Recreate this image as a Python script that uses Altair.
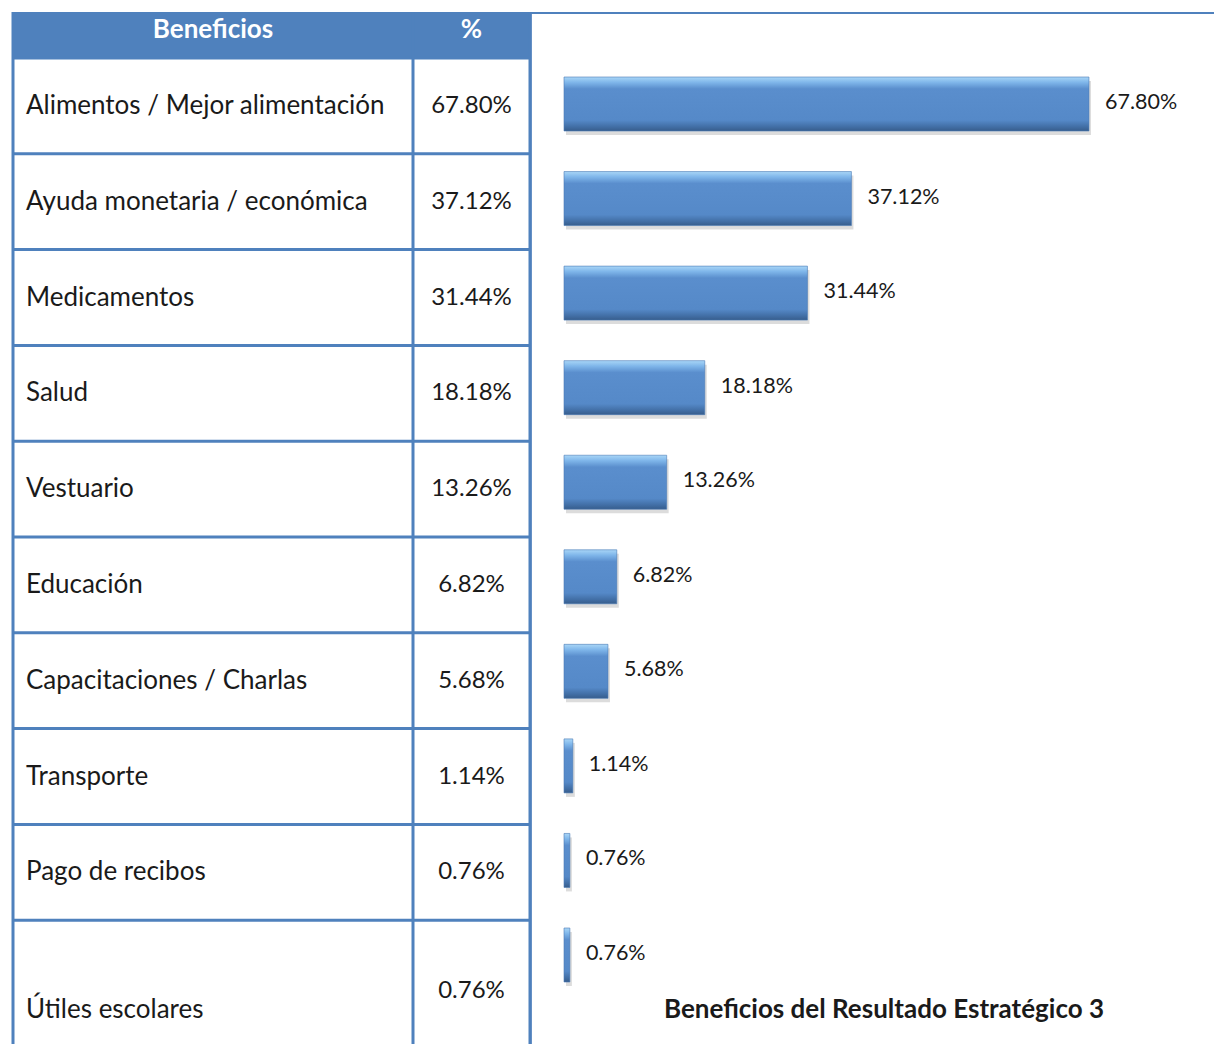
import altair as alt
import pandas as pd

# ---------------- data ----------------
categories = [
    "Alimentos / Mejor alimentación",
    "Ayuda monetaria / económica",
    "Medicamentos",
    "Salud",
    "Vestuario",
    "Educación",
    "Capacitaciones / Charlas",
    "Transporte",
    "Pago de recibos",
    "Útiles escolares",
]
values = [67.80, 37.12, 31.44, 18.18, 13.26, 6.82, 5.68, 1.14, 0.76, 0.76]
value_labels = ["67.80%", "37.12%", "31.44%", "18.18%", "13.26%",
                "6.82%", "5.68%", "1.14%", "0.76%", "0.76%"]
header_labels = ["Beneficios", "%"]
chart_title = "Beneficios del Resultado Estratégico 3"

# ---------------- style / layout ----------------
BLUE = "#4F81BD"
TXT = "#1a1a1a"
FONT = "Lato"
H = 1032            # plot height of every panel
ROW_PX = 95.8       # table row height
HEADER_PX = 46      # table header height
W1, W2, W3 = 400, 117, 684

n = len(categories)
df = pd.DataFrame({"cat": categories, "val": values, "lab": value_labels})
df["idx"] = range(n)
df["top"] = df["idx"].astype(float)
df["ty_label"] = df["idx"] + 0.50
df["ty_value"] = df["idx"] + 0.50
df.loc[n - 1, "ty_label"] = (n - 1) + 0.94
df.loc[n - 1, "ty_value"] = (n - 1) + 0.74

tdom = [-HEADER_PX / ROW_PX, (H - HEADER_PX) / ROW_PX]
tscale = alt.Scale(domain=tdom, reverse=True, nice=False, zero=False)
hdr = pd.DataFrame({"t": [tdom[0]], "b": [0.0], "ty": [-0.29]})


def table_column(width, header, text_field, ty_field, x_text, align, size, right_edge):
    head = alt.Chart(hdr).mark_rect(fill=BLUE).encode(
        x=alt.value(0), x2=alt.value(width),
        y=alt.Y("t:Q", scale=tscale, axis=None), y2="b:Q")
    hlines = alt.Chart(df).mark_rule(color=BLUE, strokeWidth=3).encode(
        x=alt.value(0), x2=alt.value(width),
        y=alt.Y("top:Q", scale=tscale, axis=None))
    vline = alt.Chart(hdr).mark_rule(color=BLUE, strokeWidth=3).encode(
        x=alt.value(0), y=alt.value(0), y2=alt.value(H))
    layers = [head, hlines, vline]
    if right_edge:
        layers.append(alt.Chart(hdr).mark_rule(color=BLUE, strokeWidth=3).encode(
            x=alt.value(width), y=alt.value(0), y2=alt.value(H)))
    head_txt = alt.Chart(hdr).mark_text(
        align="center", baseline="middle", font=FONT, fontSize=26,
        fontWeight="bold", color="white").encode(
        x=alt.value(width / 2), y=alt.Y("ty:Q", scale=tscale, axis=None),
        text=alt.value(header))
    txt = alt.Chart(df).mark_text(
        align=align, baseline="middle", font=FONT, fontSize=size, color=TXT).encode(
        x=alt.value(x_text), y=alt.Y(f"{ty_field}:Q", scale=tscale, axis=None),
        text=f"{text_field}:N")
    layers += [head_txt, txt]
    return alt.layer(*layers).properties(width=width, height=H)


col1 = table_column(W1, header_labels[0], "cat", "ty_label", 13, "left", 26, False)
col2 = table_column(W2, header_labels[1], "lab", "ty_value", W2 / 2, "center", 24, True)

# ---------------- bar panel ----------------
PX_PER_UNIT = 7.743
X0 = 34
xscale = alt.Scale(domain=[-X0 / PX_PER_UNIT, (W3 - X0) / PX_PER_UNIT], nice=False, zero=False)
yband = alt.Scale(range=[65, 970], paddingInner=0.429, paddingOuter=0)

grad = alt.LinearGradient(
    gradient="linear", x1=0, x2=0, y1=0, y2=1,
    stops=[
        alt.GradientStop(color="#a9d6f7", offset=0.0),
        alt.GradientStop(color="#7fb6ea", offset=0.10),
        alt.GradientStop(color="#5a8ecd", offset=0.22),
        alt.GradientStop(color="#5589c8", offset=0.80),
        alt.GradientStop(color="#426fa6", offset=0.92),
        alt.GradientStop(color="#375d8c", offset=1.0),
    ])

bbase = alt.Chart(df)
yenc = alt.Y("cat:N", sort=categories, scale=yband, axis=None)
xenc = alt.X("val:Q", scale=xscale, axis=None)

shadow = bbase.mark_bar(color="#9a9a9a", opacity=0.35, xOffset=2, yOffset=4).encode(x=xenc, y=yenc)
bars = bbase.mark_bar(color=grad, stroke="#4a7bb5", strokeWidth=0.6).encode(x=xenc, y=yenc)
blabels = bbase.mark_text(align="left", baseline="middle", dx=16, dy=-1,
                          font=FONT, fontSize=21.5, color=TXT).encode(
    x=xenc, y=yenc, text="lab:N")
top_line = alt.Chart(hdr).mark_rule(color=BLUE, strokeWidth=2).encode(
    y=alt.value(1), x=alt.value(0), x2=alt.value(W3))
left_line = alt.Chart(hdr).mark_rule(color=BLUE, strokeWidth=1.5).encode(
    x=alt.value(1), y=alt.value(0), y2=alt.value(H))
title_txt = alt.Chart(hdr).mark_text(
    align="center", baseline="middle", font=FONT, fontSize=26,
    fontWeight="bold", color=TXT).encode(
    x=alt.value(354), y=alt.value(998), text=alt.value(chart_title))

panel = alt.layer(shadow, bars, blabels, top_line, left_line, title_txt).properties(
    width=W3, height=H)

chart = alt.hconcat(col1, col2, panel, spacing=0, bounds="flush").properties(
    padding={"left": 3, "top": 2, "right": 0, "bottom": 0},
).configure_view(stroke=None).configure_concat(spacing=0)

chart.save("out.html", embed_options={"renderer": "svg", "actions": False})
